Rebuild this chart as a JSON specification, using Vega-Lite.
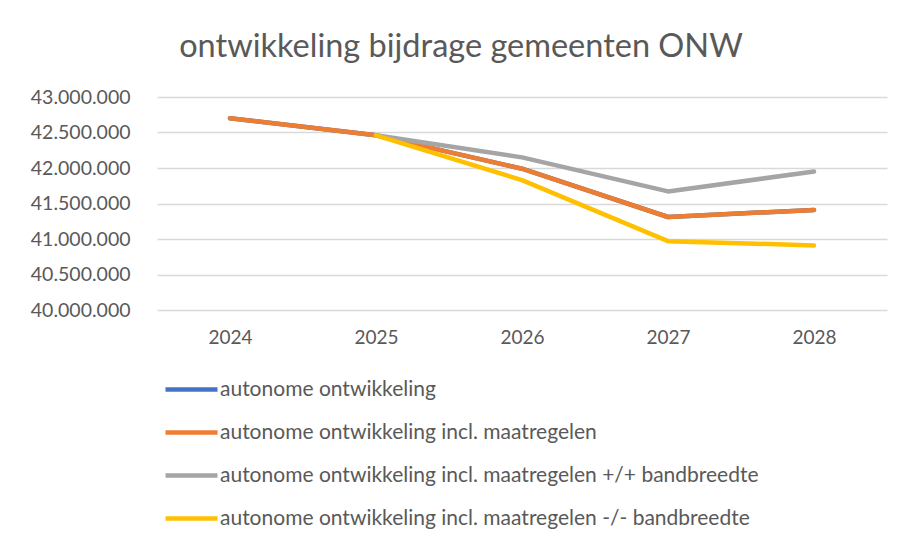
{
  "$schema": "https://vega.github.io/schema/vega-lite/v6.json",
  "autosize": {"type": "none"},
  "width": 730,
  "height": 213,
  "padding": {"left": 157, "top": 97, "right": 12, "bottom": 236},
  "background": "white",
  "title": {
    "text": "ontwikkeling bijdrage gemeenten ONW",
    "anchor": "middle",
    "frame": "group",
    "dx": -61,
    "offset": -2,
    "baseline": "alphabetic",
    "font": "Lato",
    "fontSize": 32.5,
    "fontWeight": "normal",
    "color": "#595959"
  },
  "data": {
    "values": [
      {"year": "2024", "serie": "autonome ontwikkeling", "bedrag": 42700000},
      {"year": "2025", "serie": "autonome ontwikkeling", "bedrag": 42460000},
      {"year": "2026", "serie": "autonome ontwikkeling", "bedrag": 41990000},
      {"year": "2027", "serie": "autonome ontwikkeling", "bedrag": 41310000},
      {"year": "2028", "serie": "autonome ontwikkeling", "bedrag": 41410000},
      {"year": "2024", "serie": "autonome ontwikkeling incl. maatregelen", "bedrag": 42700000},
      {"year": "2025", "serie": "autonome ontwikkeling incl. maatregelen", "bedrag": 42460000},
      {"year": "2026", "serie": "autonome ontwikkeling incl. maatregelen", "bedrag": 41990000},
      {"year": "2027", "serie": "autonome ontwikkeling incl. maatregelen", "bedrag": 41310000},
      {"year": "2028", "serie": "autonome ontwikkeling incl. maatregelen", "bedrag": 41410000},
      {"year": "2025", "serie": "autonome ontwikkeling incl. maatregelen +/+ bandbreedte", "bedrag": 42460000},
      {"year": "2026", "serie": "autonome ontwikkeling incl. maatregelen +/+ bandbreedte", "bedrag": 42150000},
      {"year": "2027", "serie": "autonome ontwikkeling incl. maatregelen +/+ bandbreedte", "bedrag": 41670000},
      {"year": "2028", "serie": "autonome ontwikkeling incl. maatregelen +/+ bandbreedte", "bedrag": 41950000},
      {"year": "2025", "serie": "autonome ontwikkeling incl. maatregelen -/- bandbreedte", "bedrag": 42460000},
      {"year": "2026", "serie": "autonome ontwikkeling incl. maatregelen -/- bandbreedte", "bedrag": 41830000},
      {"year": "2027", "serie": "autonome ontwikkeling incl. maatregelen -/- bandbreedte", "bedrag": 40970000},
      {"year": "2028", "serie": "autonome ontwikkeling incl. maatregelen -/- bandbreedte", "bedrag": 40910000}
    ]
  },
  "mark": {"type": "line", "strokeWidth": 4.5, "strokeCap": "round", "strokeJoin": "round"},
  "encoding": {
    "x": {
      "field": "year",
      "type": "ordinal",
      "scale": {"type": "point", "padding": 0.5},
      "axis": {
        "title": null,
        "labelAngle": 0,
        "ticks": false,
        "tickSize": 0,
        "domain": false,
        "grid": false,
        "labelPadding": 18,
        "labelFont": "Lato",
        "labelFontSize": 19,
        "labelColor": "#595959"
      }
    },
    "y": {
      "field": "bedrag",
      "type": "quantitative",
      "scale": {"domain": [40000000, 43000000], "nice": false, "zero": false},
      "axis": {
        "title": null,
        "values": [40000000, 40500000, 41000000, 41500000, 42000000, 42500000, 43000000],
        "labelExpr": "replace(format(datum.value, ',.0f'), regexp(',', 'g'), '.')",
        "ticks": false,
        "tickSize": 0,
        "domain": false,
        "labelPadding": 27,
        "labelFont": "Lato",
        "labelFontSize": 19.5,
        "labelColor": "#595959",
        "gridColor": "#d9d9d9",
        "gridWidth": 1.5
      }
    },
    "color": {
      "field": "serie",
      "type": "nominal",
      "scale": {
        "domain": [
          "autonome ontwikkeling",
          "autonome ontwikkeling incl. maatregelen",
          "autonome ontwikkeling incl. maatregelen +/+ bandbreedte",
          "autonome ontwikkeling incl. maatregelen -/- bandbreedte"
        ],
        "range": ["#4472C4", "#ED7D31", "#A5A5A5", "#FFC000"]
      },
      "legend": {
        "title": null,
        "orient": "none",
        "legendX": 6,
        "legendY": 264,
        "padding": 0,
        "direction": "vertical",
        "symbolType": "stroke",
        "symbolSize": 2704,
        "symbolStrokeWidth": 4.5,
        "rowPadding": 4,
        "labelOffset": 0,
        "labelLimit": 0,
        "labelFont": "Lato",
        "labelFontSize": 21,
        "labelColor": "#595959"
      }
    }
  },
  "config": {"view": {"stroke": null}}
}
